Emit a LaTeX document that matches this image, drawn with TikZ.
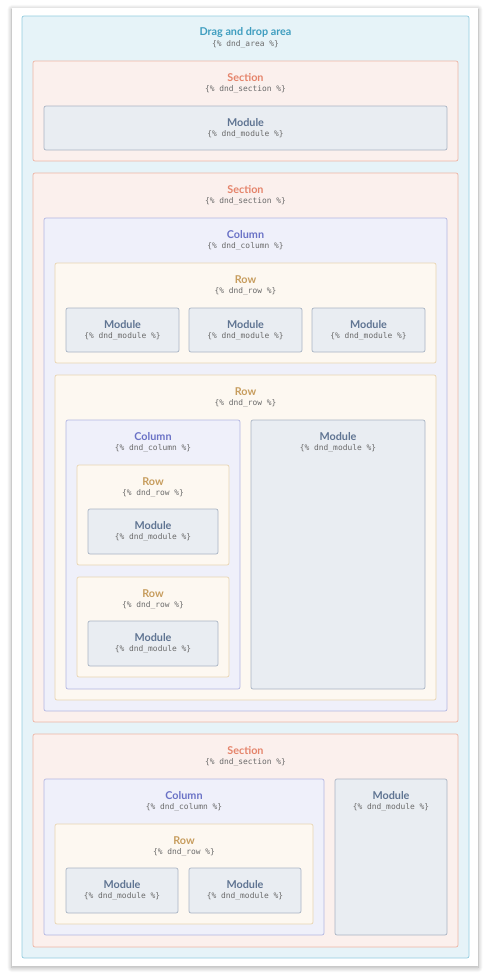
\documentclass[tikz,border=0pt]{standalone}
\usepackage{fontspec}
\setmainfont{Lato}
\newfontfamily\codefont{DejaVu Sans Mono}
\usetikzlibrary{positioning, fit, shadows.blur}
\definecolor{areafill}{HTML}{E6F3F8}
\definecolor{areadraw}{HTML}{93CCDF}
\definecolor{areatext}{HTML}{3E9DBF}
\definecolor{secfill}{HTML}{FBF0ED}
\definecolor{secdraw}{HTML}{EDB5A5}
\definecolor{sectext}{HTML}{E5846B}
\definecolor{colfill}{HTML}{EFF0FA}
\definecolor{coldraw}{HTML}{B3B7E2}
\definecolor{coltext}{HTML}{6A72C6}
\definecolor{rowfill}{HTML}{FDF8F1}
\definecolor{rowdraw}{HTML}{E9D5B2}
\definecolor{rowtext}{HTML}{C79D5E}
\definecolor{modfill}{HTML}{E9EDF2}
\definecolor{moddraw}{HTML}{A9B4C4}
\definecolor{modtext}{HTML}{5F7492}
\definecolor{codegray}{HTML}{6B6B6B}
\tikzset{
  dndbox/.style={rectangle, rounded corners=2pt, line width=0.7pt, inner sep=0pt},
  areabox/.style={dndbox, fill=areafill, draw=areadraw},
  secbox/.style={dndbox, fill=secfill, draw=secdraw},
  colbox/.style={dndbox, fill=colfill, draw=coldraw},
  rowbox/.style={dndbox, fill=rowfill, draw=rowdraw},
  modbox/.style={dndbox, fill=modfill, draw=moddraw},
  boxtitle/.style={font=\fontsize{10.8}{13}\selectfont\bfseries, inner sep=0pt},
  boxcode/.style={font=\codefont\fontsize{7.9}{9}\selectfont, text=codegray, inner sep=0pt},
}
% name, kind, x1, y1, x2, y2, title, tag
\newcommand{\dndbox}[8]{%
  \node[#2box, fit={(#3,#4) (#5,#6)}] (#1) {};
  \node[boxtitle, text=#2text] (#1-t) at ([yshift=-16.5pt]#1.north) {#7};
  \node[boxcode] (#1-c) at ([yshift=-28.5pt]#1.north) {\{\% #8 \%\}};
}

\begin{document}
\begin{tikzpicture}[x=1pt, y=-1pt]
  \useasboundingbox (0,0) rectangle (492,975);

  % card
  \node[rectangle, fill=white, inner sep=0pt, blur shadow={shadow xshift=0pt,
    shadow yshift=-1.5pt, shadow blur steps=10, shadow blur radius=5pt,
    shadow opacity=35},
    fit={(12,8) (478,966)}] (card) {};

  \dndbox{area}{area}{22}{16}{469}{958}{Drag and drop area}{dnd\_area}

  % Section 1
  \dndbox{s1}{sec}{33}{61}{458}{161}{Section}{dnd\_section}
  \dndbox{m1}{mod}{44}{106}{447}{150}{Module}{dnd\_module}

  % Section 2
  \dndbox{s2}{sec}{33}{173}{458}{722}{Section}{dnd\_section}
  \dndbox{c1}{col}{44}{218}{447}{711}{Column}{dnd\_column}
  \dndbox{r1}{row}{55}{263}{436}{363}{Row}{dnd\_row}
  \foreach \i/\x in {2/66, 3/189, 4/312}{
    \dndbox{m\i}{mod}{\x}{308}{\x+113}{352}{Module}{dnd\_module}
  }
  \dndbox{r2}{row}{55}{375}{436}{700}{Row}{dnd\_row}
  \dndbox{c2}{col}{66}{420}{240}{689}{Column}{dnd\_column}
  \dndbox{r3}{row}{77}{465}{229}{565}{Row}{dnd\_row}
  \dndbox{m5}{mod}{88}{509}{218}{554}{Module}{dnd\_module}
  \dndbox{r4}{row}{77}{577}{229}{677}{Row}{dnd\_row}
  \dndbox{m6}{mod}{88}{621}{218}{666}{Module}{dnd\_module}
  \dndbox{m7}{mod}{251}{420}{425}{689}{Module}{dnd\_module}

  % Section 3
  \dndbox{s3}{sec}{33}{734}{458}{947}{Section}{dnd\_section}
  \dndbox{c3}{col}{44}{779}{324}{935}{Column}{dnd\_column}
  \dndbox{r5}{row}{55}{824}{313}{924}{Row}{dnd\_row}
  \foreach \i/\x in {8/66, 9/189}{
    \dndbox{m\i}{mod}{\x}{868}{\x+112}{913}{Module}{dnd\_module}
  }
  \dndbox{m10}{mod}{335}{779}{447}{935}{Module}{dnd\_module}
\end{tikzpicture}
\end{document}
